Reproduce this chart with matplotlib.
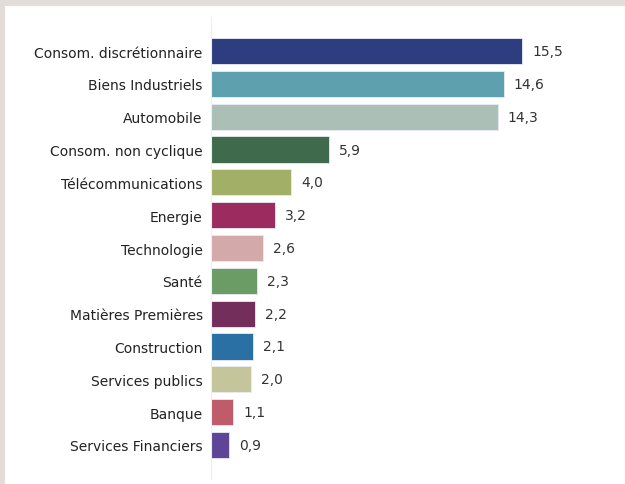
import matplotlib
matplotlib.use("Agg")
import matplotlib.pyplot as plt
from matplotlib.patches import Rectangle

categories = ["Consom. discrétionnaire", "Biens Industriels", "Automobile",
              "Consom. non cyclique", "Télécommunications", "Energie",
              "Technologie", "Santé", "Matières Premières", "Construction",
              "Services publics", "Banque", "Services Financiers"]
values = [15.5, 14.6, 14.3, 5.9, 4.0, 3.2, 2.6, 2.3, 2.2, 2.1, 2.0, 1.1, 0.9]
colors = ["#2e3d80", "#5fa0ae", "#abbfb7", "#3f6a4b", "#a2af66", "#9c2b60",
          "#d4a9a9", "#6b9c65", "#742e5b", "#2a70a4", "#c5c59c", "#c05b6a",
          "#5f4598"]

W, H = 625, 485
fig = plt.figure(figsize=(W / 100, H / 100), dpi=100)
fig.patch.set_facecolor("#e2ddd9")
fig.patches.append(Rectangle((5 / W, 0), 1, 1 - 7 / H, transform=fig.transFigure,
                             facecolor="white", edgecolor="none", zorder=-10))

ax = fig.add_axes([211 / W, 5 / H, (W - 211) / W, 462 / H])
ax.patch.set_alpha(0)
ypos = list(range(len(categories)))
ax.barh(ypos, values, height=0.8, color=colors, edgecolor="#e8ecf4", linewidth=0.6)
for y, v in zip(ypos, values):
    ax.text(v + 0.5, y, f"{v:.1f}".replace(".", ","), va="center", ha="left",
            fontsize=10, color="#333333")

ax.set_xlim(0, (W - 211) / 20.06)
ax.set_ylim(12 + 34 / 32.83, -34 / 32.83)
ax.set_yticks(ypos)
ax.set_yticklabels(categories, fontsize=10, color="#222222")
ax.tick_params(axis="y", length=0, pad=6)
ax.set_xticks([])
for s in ["top", "right", "bottom"]:
    ax.spines[s].set_visible(False)
ax.spines["left"].set_color("#eeeeee")
ax.spines["left"].set_linewidth(0.8)

fig.savefig("out.png", dpi=100)
